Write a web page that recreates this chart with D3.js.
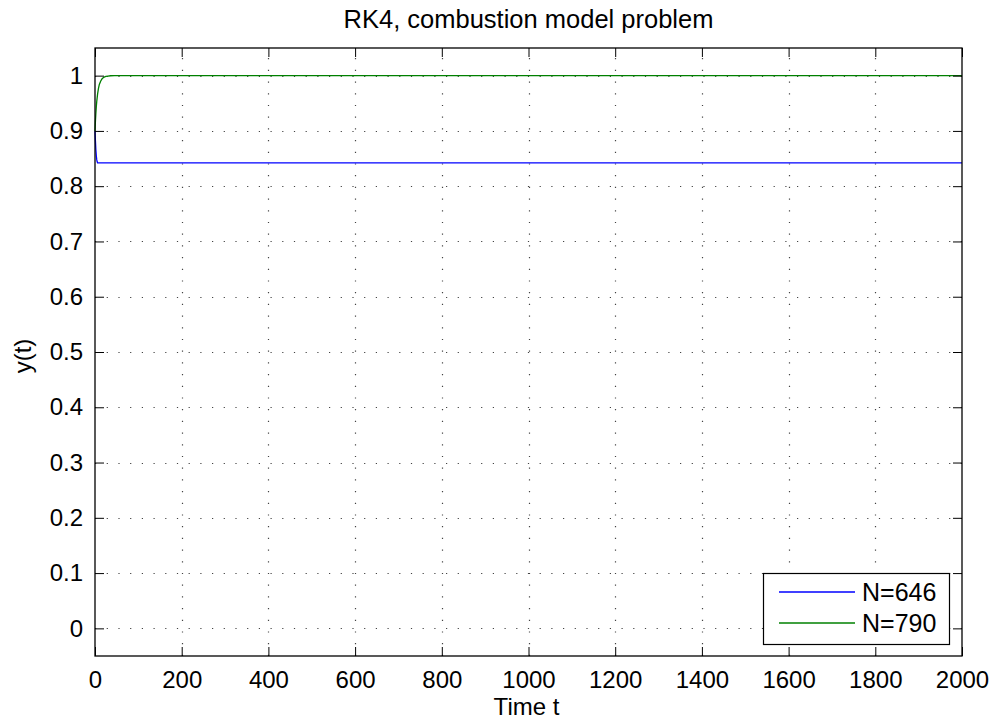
<!DOCTYPE html>
<html>
<head>
<meta charset="utf-8">
<script src="https://cdn.jsdelivr.net/npm/d3@7"></script>
<style>
body { margin: 0; background: #fff; }
text { font-family: "Liberation Sans", Arial, sans-serif; }
</style>
</head>
<body>
<script>
// values
var tBlue = [0, 1, 2, 3, 4, 5, 6, 2000];
var yBlue = [0.9, 0.882, 0.866, 0.855, 0.848, 0.844, 0.842, 0.842];
var tGreen = [0, 1, 2, 3, 4, 6, 8, 10, 13, 16, 20, 25, 30, 36, 45, 2000];
var yGreen = [0.9, 0.918, 0.932, 0.944, 0.953, 0.967, 0.977, 0.984, 0.99, 0.994, 0.997, 0.9985, 0.9993, 0.9998, 1, 1];
var seriesNames = ["N=646", "N=790"];
var xTicks = [0, 200, 400, 600, 800, 1000, 1200, 1400, 1600, 1800, 2000];
var yTicks = [0, 0.1, 0.2, 0.3, 0.4, 0.5, 0.6, 0.7, 0.8, 0.9, 1];

var W = 997, H = 723;
var pL = 95, pR = 962, pT = 48, pB = 656;
var fs = 24;

var svg = d3.select("body").append("svg").attr("width", W).attr("height", H);

var x = d3.scaleLinear().domain([0, 2000]).range([pL, pR]);
var y = d3.scaleLinear().domain([-0.05, 1.05]).range([pB, pT]);

// grid, dotted like matlab
var grid = svg.append("g").attr("stroke", "#444").attr("stroke-width", 1.2)
    .attr("stroke-dasharray", "1.2,10.5");
grid.selectAll("line.gx").data(xTicks.slice(1, -1)).enter().append("line")
    .attr("x1", function(d) { return Math.round(x(d)) + 0.5; })
    .attr("x2", function(d) { return Math.round(x(d)) + 0.5; })
    .attr("y1", pB).attr("y2", pT);
grid.selectAll("line.gy").data(yTicks).enter().append("line")
    .attr("y1", function(d) { return Math.round(y(d)) + 0.5; })
    .attr("y2", function(d) { return Math.round(y(d)) + 0.5; })
    .attr("x1", pL).attr("x2", pR);

// lines
var line = d3.line().x(function(d) { return x(d[0]); }).y(function(d) { return y(d[1]); });
var blue = d3.zip(tBlue, yBlue), green = d3.zip(tGreen, yGreen);
svg.append("path").datum(blue).attr("d", line).attr("fill", "none")
    .attr("stroke", "#0000ff").attr("stroke-width", 1.3);
svg.append("path").datum(green).attr("d", line).attr("fill", "none")
    .attr("stroke", "#008000").attr("stroke-width", 1.3);

// axes with inside ticks on all four sides
var tk = 9;
var axB = d3.axisBottom(x).tickValues(xTicks).tickSize(-tk).tickPadding(15).tickFormat(d3.format("d"));
var axT = d3.axisTop(x).tickValues(xTicks).tickSize(-tk).tickFormat("");
var axL = d3.axisLeft(y).tickValues(yTicks).tickSize(-tk).tickPadding(12).tickFormat(function(d) { return d3.format("")(+d.toFixed(1)); });
var axR = d3.axisRight(y).tickValues(yTicks).tickSize(-tk).tickFormat("");
function style(g) {
  g.select(".domain").remove();
  g.selectAll("line").attr("stroke", "#000");
  g.selectAll("text").attr("font-size", fs).attr("fill", "#000")
    .attr("font-family", "Liberation Sans, Arial, sans-serif");
}
svg.append("g").attr("transform", "translate(0," + pB + ")").call(axB).call(style);
svg.append("g").attr("transform", "translate(0," + pT + ")").call(axT).call(style);
svg.append("g").attr("transform", "translate(" + pL + ",0)").call(axL).call(style);
svg.append("g").attr("transform", "translate(" + pR + ",0)").call(axR).call(style);

svg.append("rect").attr("x", pL).attr("y", pT).attr("width", pR - pL).attr("height", pB - pT)
    .attr("fill", "none").attr("stroke", "#000").attr("stroke-width", 1.3);

// labels
svg.append("text").attr("x", (pL + pR) / 2).attr("y", 28).attr("text-anchor", "middle")
    .attr("font-size", 25.5).text("RK4, combustion model problem");
svg.append("text").attr("x", (pL + pR) / 2 - 2).attr("y", 715).attr("text-anchor", "middle")
    .attr("font-size", fs).text("Time t");
svg.append("text").attr("transform", "translate(31,356) rotate(-90)")
    .attr("text-anchor", "middle").attr("font-size", fs).text("y(t)");

// legend
var lg = svg.append("g");
lg.append("rect").attr("x", 763.5).attr("y", 573.5).attr("width", 186).attr("height", 71)
    .attr("fill", "#fff").attr("stroke", "#000").attr("stroke-width", 1.2);
var colors = ["#0000ff", "#008000"];
seriesNames.forEach(function(n, i) {
  var yy = 592 + i * 31;
  lg.append("line").attr("x1", 779).attr("x2", 855).attr("y1", yy).attr("y2", yy)
    .attr("stroke", colors[i]).attr("stroke-width", 1.3);
  lg.append("text").attr("x", 862).attr("y", yy + 9).attr("font-size", 25).text(n);
});
</script>
</body>
</html>
